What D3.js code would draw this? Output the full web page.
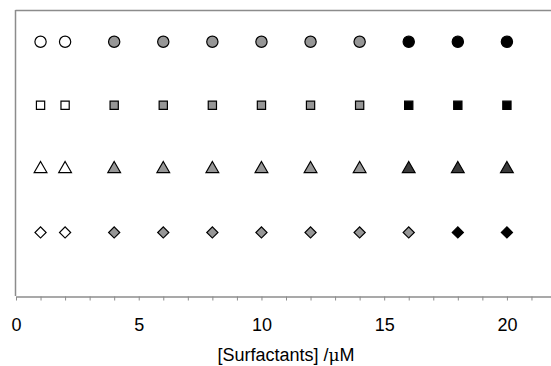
<!DOCTYPE html>
<html>
<head>
<meta charset="utf-8">
<script src="https://cdn.jsdelivr.net/npm/d3@7"></script>
<style>
  body { margin: 0; background: #fff; }
  svg { display: block; font-family: "Liberation Sans", Arial, sans-serif; }
</style>
</head>
<body>
<svg id="chart" width="551" height="366"></svg>
<script>
(function(){

	// surfactant concentrations (uM) for each row
	var concentrations = [1, 2, 4, 6, 8, 10, 12, 14, 16, 18, 20];

	// fill class for each point in a row: w = white, g = gray, d = dark gray, b = black
	var circleFills   = ["w","w","g","g","g","g","g","g","b","b","b"];
	var squareFills   = ["w","w","g","g","g","g","g","g","b","b","b"];
	var triangleFills = ["w","w","g","g","g","g","g","g","d","d","d"];
	var diamondFills  = ["w","w","g","g","g","g","g","g","g","b","b"];

	var rowLevels = [4, 3, 2, 1];
	var xTicks = [0, 5, 10, 15, 20];

	var fillColors = { w : "#ffffff", g : "#969696", d : "#3a3a3a", b : "#000000" };

	var rows = [
		{ level : rowLevels[0], shape : "circle",   fills : circleFills },
		{ level : rowLevels[1], shape : "square",   fills : squareFills },
		{ level : rowLevels[2], shape : "triangle", fills : triangleFills },
		{ level : rowLevels[3], shape : "diamond",  fills : diamondFills }
	];

	var svg = d3.select("#chart");

	var x = d3.scaleLinear().domain([0, 22]).range([16, 556]);
	var y = d3.scaleLinear().domain([0, 4.5]).range([296, 10]);

	// frame: top and left lines
	svg.append("line")
		.attr("x1", 15.5).attr("x2", 551)
		.attr("y1", 10.5).attr("y2", 10.5)
		.attr("stroke", "#8c8c8c").attr("stroke-width", 1.5);
	svg.append("line")
		.attr("x1", 15.5).attr("x2", 15.5)
		.attr("y1", 10).attr("y2", 296)
		.attr("stroke", "#8c8c8c").attr("stroke-width", 1.5);

	// x axis, a tick every unit, labels every 5
	var xAxis = d3.axisBottom(x)
		.tickValues(d3.range(0, 23, 1))
		.tickSize(4)
		.tickSizeOuter(0)
		.tickFormat(function(d) { return xTicks.indexOf(d) >= 0 ? d : ""; });

	var gx = svg.append("g")
		.attr("transform", "translate(0,296.5)")
		.call(xAxis);
	gx.select(".domain").attr("stroke", "#8c8c8c").attr("stroke-width", 1.5);
	gx.selectAll(".tick line").attr("stroke", "#8c8c8c");
	gx.selectAll(".tick text")
		.attr("y", 22)
		.attr("fill", "#000")
		.style("font-size", "18px")
		.style("font-family", "Liberation Sans, Arial, sans-serif");

	var label = svg.append("text")
		.attr("x", 286)
		.attr("y", 361)
		.attr("text-anchor", "middle")
		.style("font-size", "18px");
	label.append("tspan").text("[Surfactants] /");
	label.append("tspan").style("font-family", "DejaVu Serif, serif").style("font-size", "17px").text("μ");
	label.append("tspan").text("M");

	function symbolFor(shape){
		if (shape == "circle") return d3.symbol().type(d3.symbolCircle).size(100)();
		if (shape == "square") return d3.symbol().type(d3.symbolSquare).size(68)();
		if (shape == "triangle") return d3.symbol().type(d3.symbolTriangle).size(70)();
		return d3.symbol().type(d3.symbolSquare).size(62)();
	}

	rows.forEach(function(row){
		var path = symbolFor(row.shape);
		svg.append("g").selectAll("path")
			.data(concentrations)
			.enter().append("path")
			.attr("d", path)
			.attr("transform", function(d) {
				var t = "translate(" + x(d) + "," + y(row.level) + ")";
				return row.shape == "diamond" ? t + " rotate(45)" : t;
			})
			.attr("fill", function(d, i) { return fillColors[row.fills[i]]; })
			.attr("stroke", "#000")
			.attr("stroke-width", 1.2);
	});

})();
</script>
</body>
</html>
